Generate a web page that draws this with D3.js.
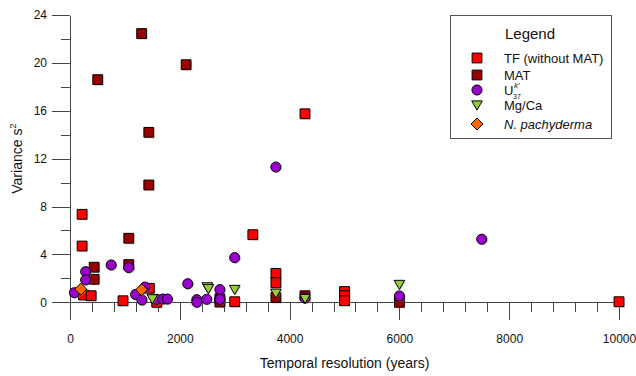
<!DOCTYPE html>
<html>
<head>
<meta charset="utf-8">
<script src="https://cdn.jsdelivr.net/npm/d3@7"></script>
<style>
  body { margin: 0; background: #fff; }
  text { font-family: Arial, "Liberation Sans", sans-serif; fill: #111; }
  .axis path, .axis line { stroke: #444; stroke-width: 1; shape-rendering: crispEdges; }
  .axis text { font-size: 12px; fill: #111; }
</style>
</head>
<body>
<svg id="chart" width="636" height="376"></svg>
<script>
// values: [years, variance]
var tfPoints = [
  [220, 7.35], [220, 4.7], [245, 0.61], [385, 0.55], [965, 0.13],
  [1445, 1.17], [1580, 0.0], [3000, 0.05], [3330, 5.65], [3750, 2.42],
  [3750, 1.64], [4280, 15.75], [5000, 0.9], [5000, 0.55], [5000, 0.13],
  [10000, 0.05]
];
var matPoints = [
  [505, 18.6], [1305, 22.45], [2115, 19.85], [1435, 14.2], [1435, 9.8],
  [1070, 5.35], [1070, 3.15], [440, 2.93], [440, 1.92], [2730, 0.3],
  [2730, 0.02], [3750, 0.4], [4280, 0.55], [6000, 0.0]
];
var uk37Points = [
  [80, 0.8], [285, 2.56], [285, 1.87], [750, 3.12], [1070, 2.9],
  [1195, 0.65], [1310, 0.19], [1365, 1.27], [1580, 0.25], [1690, 0.27],
  [1775, 0.27], [2145, 1.55], [2310, 0.22], [2310, 0.0], [2490, 0.25],
  [2730, 1.06], [2730, 0.25], [3000, 3.73], [3750, 11.3], [4280, 0.35],
  [6000, 0.53], [7500, 5.27]
];
var mgcaPoints = [
  [1500, 0.25], [2500, 1.25], [2520, 1.1], [3000, 1.03], [3750, 0.72],
  [4280, 0.28], [6000, 1.45]
];
var pachyPoints = [
  [195, 1.1], [1305, 1.05]
];

var xTicks = [0, 2000, 4000, 6000, 8000, 10000];
var yTicks = [0, 4, 8, 12, 16, 20, 24];

var series = [
  { name: "TF (without MAT)", points: tfPoints, shape: d3.symbolSquare, size: 96, fill: "#ff0000" },
  { name: "MAT", points: matPoints, shape: d3.symbolSquare, size: 96, fill: "#990000" },
  { name: "U37", points: uk37Points, shape: d3.symbolCircle, size: 80, fill: "#9900cc" },
  { name: "Mg/Ca", points: mgcaPoints, shape: "tri", size: 0, fill: "#99cc33" },
  { name: "N. pachyderma", points: pachyPoints, shape: "dia", size: 0, fill: "#ff6600" }
];

var svg = d3.select("#chart");

var x = d3.scaleLinear().domain([0, 10000]).range([70, 619]);
var y = d3.scaleLinear().domain([0, 24]).range([302.3, 15]);

function markPath(s) {
  if (s.shape === "tri") return "M-5.3,-4.6L5.3,-4.6L0,4.6Z";
  if (s.shape === "dia") return "M0,-6L6,0L0,6L-6,0Z";
  return d3.symbol().type(s.shape).size(s.size)();
}

// minor ticks
svg.append("g").attr("class", "axis")
  .attr("transform", "translate(0," + y(0) + ")")
  .call(d3.axisBottom(x).tickValues(d3.range(0, 10001, 400)).tickSize(10).tickSizeOuter(0).tickFormat(""));
svg.append("g").attr("class", "axis")
  .attr("transform", "translate(" + x(0) + ",0)")
  .call(d3.axisLeft(y).tickValues(d3.range(0, 25, 2)).tickSize(9).tickSizeOuter(0).tickFormat(""));

// major ticks + labels
svg.append("g").attr("class", "axis")
  .attr("transform", "translate(0," + y(0) + ")")
  .call(d3.axisBottom(x).tickValues(xTicks).tickSize(18).tickSizeOuter(0).tickPadding(14).tickFormat(d3.format("d")));
svg.append("g").attr("class", "axis")
  .attr("transform", "translate(" + x(0) + ",0)")
  .call(d3.axisLeft(y).tickValues(yTicks).tickSize(18).tickSizeOuter(0).tickPadding(5).tickFormat(d3.format("d")));

// axis titles
svg.append("text")
  .attr("x", (x(0) + x(10000)) / 2).attr("y", 368)
  .attr("text-anchor", "middle").style("font-size", "14px")
  .text("Temporal resolution (years)");

var yt = svg.append("text")
  .attr("transform", "translate(22," + ((y(0) + y(24)) / 2) + ") rotate(-90)")
  .attr("text-anchor", "middle").style("font-size", "14px");
yt.append("tspan").text("Variance s");
yt.append("tspan").attr("dy", -6).style("font-size", "9px").text("2");

// points
series.forEach(function (s) {
  var g = svg.append("g");
  g.selectAll("path.shadow")
    .data(s.points).enter().append("path")
    .attr("class", "shadow")
    .attr("d", markPath(s))
    .attr("transform", function (d) { return "translate(" + (x(d[0]) + 1.2) + "," + (y(d[1]) + 1.2) + ")"; })
    .attr("fill", "#888").attr("opacity", 0.35);
  g.selectAll("path.mark")
    .data(s.points).enter().append("path")
    .attr("class", "mark")
    .attr("d", markPath(s))
    .attr("transform", function (d) { return "translate(" + x(d[0]) + "," + y(d[1]) + ")"; })
    .attr("fill", s.fill).attr("stroke", "#000").attr("stroke-width", 1);
});

// legend
var lg = svg.append("g");
lg.append("rect")
  .attr("x", 450.5).attr("y", 15.5).attr("width", 161).attr("height", 123)
  .attr("fill", "#fff").attr("stroke", "#555").attr("stroke-width", 1);
lg.append("text").attr("x", 505).attr("y", 39).style("font-size", "15px").text("Legend");

var rowY = [58, 75, 90, 105.5, 124];
series.forEach(function (s, i) {
  lg.append("path")
    .attr("d", markPath(s))
    .attr("transform", "translate(477," + rowY[i] + ")")
    .attr("fill", s.fill).attr("stroke", "#000");
  if (s.name === "U37") {
    lg.append("text").attr("x", 504).attr("y", rowY[i] + 4.5).style("font-size", "13px").text("U");
    lg.append("text").attr("x", 514).attr("y", rowY[i] - 2).style("font-size", "8px").style("font-style", "italic").text("k\u2032");
    lg.append("text").attr("x", 513).attr("y", rowY[i] + 8.5).style("font-size", "7px").text("37");
  } else {
    lg.append("text").attr("x", 504).attr("y", rowY[i] + 4.5).style("font-size", "13px")
      .style("font-style", s.name === "N. pachyderma" ? "italic" : "normal")
      .text(s.name);
  }
});
</script>
</body>
</html>
